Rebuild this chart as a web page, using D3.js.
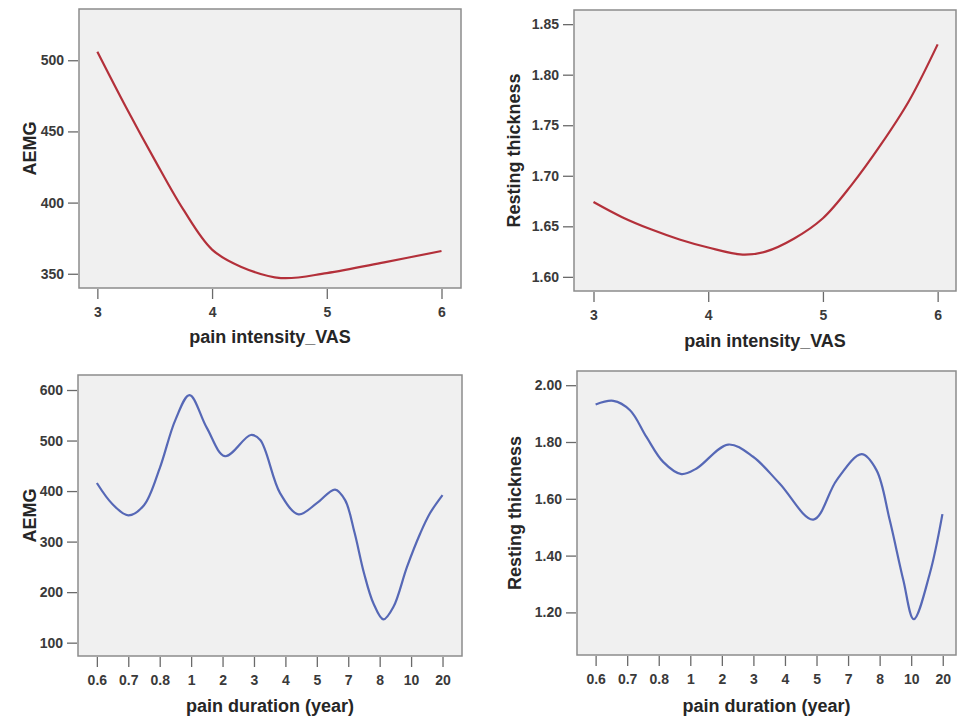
<!DOCTYPE html>
<html>
<head>
<meta charset="utf-8">
<script src="https://cdn.jsdelivr.net/npm/d3@7"></script>
<style>
  body { margin: 0; background: #fff; }
  svg text { font-family: "Liberation Sans", Arial, sans-serif; }
  .tick text { font-size: 14px; font-weight: bold; fill: #3a3a3a; }
  .tick line { stroke: #6a6a6a; stroke-width: 1.3; }
  .title { font-size: 18px; font-weight: bold; fill: #262626; }
</style>
</head>
<body>
<svg class="plot" width="957" height="719"></svg>
<script>
  // top row: pain intensity (VAS)
  const vasTicks = [3, 4, 5, 6]
  const vasX_aemg = [3.0, 3.25, 3.5, 3.75, 4.0, 4.25, 4.6, 5.0, 5.5, 6.0]
  const vasY_aemg = [506, 467, 430, 395, 367, 355, 347, 350.5, 358, 366]
  const vasX_thick = [3.0, 3.25, 3.5, 3.75, 4.0, 4.3, 4.5, 4.75, 5.0, 5.25, 5.5, 5.75, 6.0]
  const vasY_thick = [1.674, 1.659, 1.647, 1.637, 1.629, 1.622, 1.625, 1.638, 1.658, 1.691, 1.730, 1.774, 1.830]

  // bottom row: pain duration categories (x is position along the category axis)
  const durLabels = ["0.6", "0.7", "0.8", "1", "2", "3", "4", "5", "7", "8", "10", "20"]
  const durX_aemg = [0, 0.5, 1.0, 1.5, 2.0, 2.5, 2.95, 3.5, 4.08, 4.9, 5.2, 5.83, 6.42, 7.0, 7.58, 7.9, 8.2, 8.5, 8.8, 9.12, 9.44, 9.87, 10.29, 10.6, 11.0]
  const durY_aemg = [416, 374, 352, 372, 445, 541, 590, 525, 469, 511, 501, 396, 354, 376, 403, 382, 318, 238, 178, 146, 171, 250, 316, 356, 392]
  const durX_thick = [0, 0.56, 1.09, 1.61, 2.14, 2.72, 3.2, 4.2, 4.99, 5.83, 6.9, 7.64, 8.43, 8.9, 9.32, 9.75, 10.08, 10.59, 10.99]
  const durY_thick = [1.932, 1.945, 1.912, 1.818, 1.730, 1.687, 1.707, 1.791, 1.748, 1.654, 1.527, 1.666, 1.757, 1.701, 1.525, 1.314, 1.176, 1.337, 1.546]

  const aemgTicksTop = [350, 400, 450, 500]
  const thickTicksTop = [1.60, 1.65, 1.70, 1.75, 1.80, 1.85]
  const aemgTicksBottom = [100, 200, 300, 400, 500, 600]
  const thickTicksBottom = [1.20, 1.40, 1.60, 1.80, 2.00]

  const svg = d3.select("svg.plot")

  function panel(p) {
    var xScale = d3.scaleLinear().domain(p.xDomain).range([p.left, p.right])
    var yScale = d3.scaleLinear().domain(p.yDomain).range([p.bottom, p.top])

    svg.append("rect")
      .attr("x", p.left)
      .attr("y", p.top)
      .attr("width", p.right - p.left)
      .attr("height", p.bottom - p.top)
      .attr("fill", "#f0f0f0")
      .attr("stroke", "#8c8c8c")
      .attr("stroke-width", 1.5)

    let bottomAxis = d3.axisBottom(xScale).tickValues(p.xTicks).tickSize(10).tickPadding(8).tickFormat(p.xFormat)
    let leftAxis = d3.axisLeft(yScale).tickValues(p.yTicks).tickSize(10).tickPadding(4).tickFormat(p.yFormat)

    svg.append("g")
      .attr("class", "x axis")
      .attr("transform", "translate(0," + (p.bottom + 1) + ")")
      .call(bottomAxis)
      .call(g => g.select(".domain").remove())
    svg.append("g")
      .attr("class", "y axis")
      .attr("transform", "translate(" + (p.left - 1) + ",0)")
      .call(leftAxis)
      .call(g => g.select(".domain").remove())

    var line = d3.line()
      .x(d => xScale(d[0]))
      .y(d => yScale(d[1]))
      .curve(d3.curveCatmullRom.alpha(0.5))
    svg.append("path")
      .datum(d3.zip(p.xs, p.ys))
      .attr("d", line)
      .attr("fill", "none")
      .attr("stroke", p.color)
      .attr("stroke-width", 2.2)

    svg.append("text")
      .attr("class", "title")
      .attr("x", (p.left + p.right) / 2)
      .attr("y", p.xTitleY)
      .attr("text-anchor", "middle")
      .text(p.xTitle)
    svg.append("text")
      .attr("class", "title")
      .attr("transform", "translate(" + p.yTitleX + "," + ((p.top + p.bottom) / 2) + ") rotate(270)")
      .attr("text-anchor", "middle")
      .text(p.yTitle)
  }

  const red = "#b3303a"
  const blue = "#5668b6"
  const idx = d3.range(durLabels.length)
  const intFmt = d3.format("d")
  const twoDp = d3.format(".2f")
  const durFmt = i => durLabels[i]

  panel({ left: 79, right: 461, top: 9, bottom: 288, xDomain: [2.84, 6.17], yDomain: [340, 536],
    xTicks: vasTicks, xFormat: intFmt, yTicks: aemgTicksTop, yFormat: intFmt, xs: vasX_aemg, ys: vasY_aemg, color: red,
    xTitle: "pain intensity_VAS", xTitleY: 343, yTitle: "AEMG", yTitleX: 36 })
  panel({ left: 574, right: 956, top: 10, bottom: 291, xDomain: [2.83, 6.16], yDomain: [1.586, 1.864],
    xTicks: vasTicks, xFormat: intFmt, yTicks: thickTicksTop, yFormat: twoDp, xs: vasX_thick, ys: vasY_thick, color: red,
    xTitle: "pain intensity_VAS", xTitleY: 347, yTitle: "Resting thickness", yTitleX: 520 })
  panel({ left: 78, right: 462, top: 375, bottom: 656, xDomain: [-0.6, 11.62], yDomain: [73.6, 629.7],
    xTicks: idx, xFormat: durFmt, yTicks: aemgTicksBottom, yFormat: intFmt, xs: durX_aemg, ys: durY_aemg, color: blue,
    xTitle: "pain duration (year)", xTitleY: 712, yTitle: "AEMG", yTitleX: 36 })
  panel({ left: 577, right: 956, top: 371, bottom: 655, xDomain: [-0.59, 11.42], yDomain: [1.05, 2.05],
    xTicks: idx, xFormat: durFmt, yTicks: thickTicksBottom, yFormat: twoDp, xs: durX_thick, ys: durY_thick, color: blue,
    xTitle: "pain duration (year)", xTitleY: 712, yTitle: "Resting thickness", yTitleX: 521 })
</script>
</body>
</html>
